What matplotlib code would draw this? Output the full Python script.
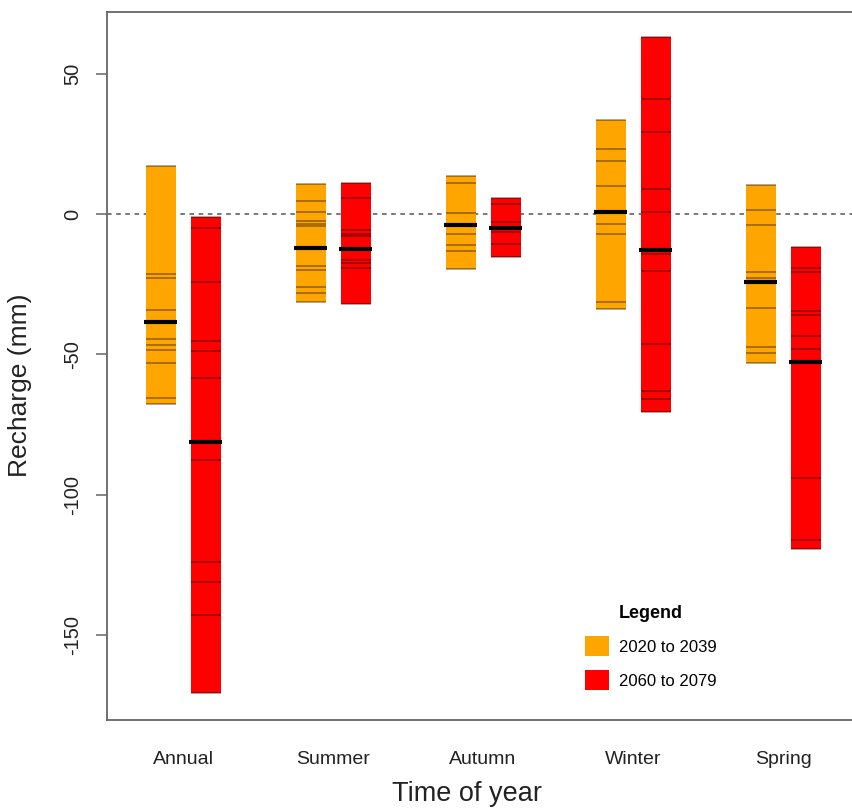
import numpy as np
import matplotlib
matplotlib.use("Agg")
import matplotlib.pyplot as plt
from matplotlib.patches import Patch

plt.rcParams["font.family"] = ["Liberation Sans", "DejaVu Sans"]

categories = ["Annual", "Summer", "Autumn", "Winter", "Spring"]
periods = ["2020 to 2039", "2060 to 2079"]
colors = ["#FFA500", "#FF0000"]

# ensemble members, 2020 to 2039
near_annual = [17.2, -21.4, -22.7, -34.2, -44.6, -46.6, -48.4, -53.1, -65.6, -67.8]
near_summer = [10.6, 4.6, 0.6, -2.4, -3.6, -4.3, -18.4, -19.9, -25.9, -28.0, -31.4]
near_autumn = [13.5, 10.9, 0.2, -7.1, -11.0, -13.0, -19.7]
near_winter = [33.5, 23.1, 18.9, 10.0, -3.7, -7.2, -31.4, -33.9]
near_spring = [10.5, 1.4, -3.9, -20.5, -22.9, -33.3, -47.2, -49.4, -53.1]
near_median = [-38.5, -12.1, -4.0, 0.8, -24.3]

# ensemble members, 2060 to 2079
far_annual = [-0.9, -4.9, -24.3, -45.2, -48.8, -58.5, -87.5, -123.7, -131.1, -142.7, -170.6]
far_summer = [10.9, 5.6, -5.7, -7.1, -8.0, -16.4, -17.6, -19.1, -32.1]
far_autumn = [5.8, 3.6, -2.7, -6.3, -10.7, -15.2]
far_winter = [63.1, 40.9, 29.1, 8.9, 0.6, -14.4, -20.2, -46.4, -63.0, -65.8, -70.6]
far_spring = [-11.9, -19.3, -20.5, -34.4, -35.9, -43.3, -48.2, -94.1, -116.0, -119.2]
far_median = [-81.0, -12.5, -5.0, -12.8, -52.5]

near_vals = [near_annual, near_summer, near_autumn, near_winter, near_spring]
far_vals = [far_annual, far_summer, far_autumn, far_winter, far_spring]

W = 0.2
OFF = 0.15


def draw_period(ax, xs, vals, medians, color):
    lo = np.array([min(v) for v in vals])
    hi = np.array([max(v) for v in vals])
    ax.bar(xs, hi - lo, bottom=lo, width=W, color=color, linewidth=0, zorder=2)
    for x, v in zip(xs, vals):
        ax.hlines(v, x - W / 2, x + W / 2, color="black", alpha=0.4,
                  linewidth=1.2, zorder=3)
    ax.hlines(medians, xs - W / 2 - 0.012, xs + W / 2 + 0.012, color="black",
              linewidth=3.0, zorder=4)


fig = plt.figure(figsize=(8.53, 8.08), dpi=100)
ax = fig.add_axes([107 / 853, 1 - 720 / 808, 753 / 853, 708 / 808])

x = np.arange(len(categories))
ax.axhline(0, color="#555555", linewidth=1.1, linestyle=(0, (3, 3)), zorder=1)
draw_period(ax, x - OFF, near_vals, near_median, colors[0])
draw_period(ax, x + OFF, far_vals, far_median, colors[1])

ax.set_xlim(-76 / 150, 677 / 150)
ax.set_ylim(-180.1, 71.9)
ax.set_yticks([50, 0, -50, -100, -150])
ax.set_yticklabels(["50", "0", "-50", "-100", "-150"], rotation=90, va="center")
ax.set_xticks(x)
ax.set_xticklabels(categories)
ax.tick_params(axis="x", length=0, pad=22, labelsize=14, colors="#222222")
ax.tick_params(axis="y", length=8, width=1.1, color="#666666", pad=10,
               labelsize=14.5, labelcolor="#222222")
for s in ax.spines.values():
    s.set_color("#666666")
    s.set_linewidth(1.3)

ax.set_xlabel("Time of year", fontsize=19.5, color="#222222")
ax.xaxis.set_label_coords((467 - 107) / 753, (720 - 781) / 708)
ax.set_ylabel("Recharge (mm)", fontsize=19, color="#222222")
ax.yaxis.set_label_coords((32 - 107) / 753, (720 - 385) / 708)

handles = [Patch(facecolor=c, edgecolor="none") for c in colors]
leg = ax.legend(handles, periods, title="Legend", frameon=False, fontsize=12,
                handlelength=1.45, handleheight=1.45, labelspacing=0.85,
                handletextpad=0.6, loc="upper left",
                bbox_to_anchor=((570 - 107) / 753, (720 - 590) / 708))
leg.get_title().set_fontweight("bold")
leg.get_title().set_fontsize(13)

fig.savefig("out.png", dpi=100)
